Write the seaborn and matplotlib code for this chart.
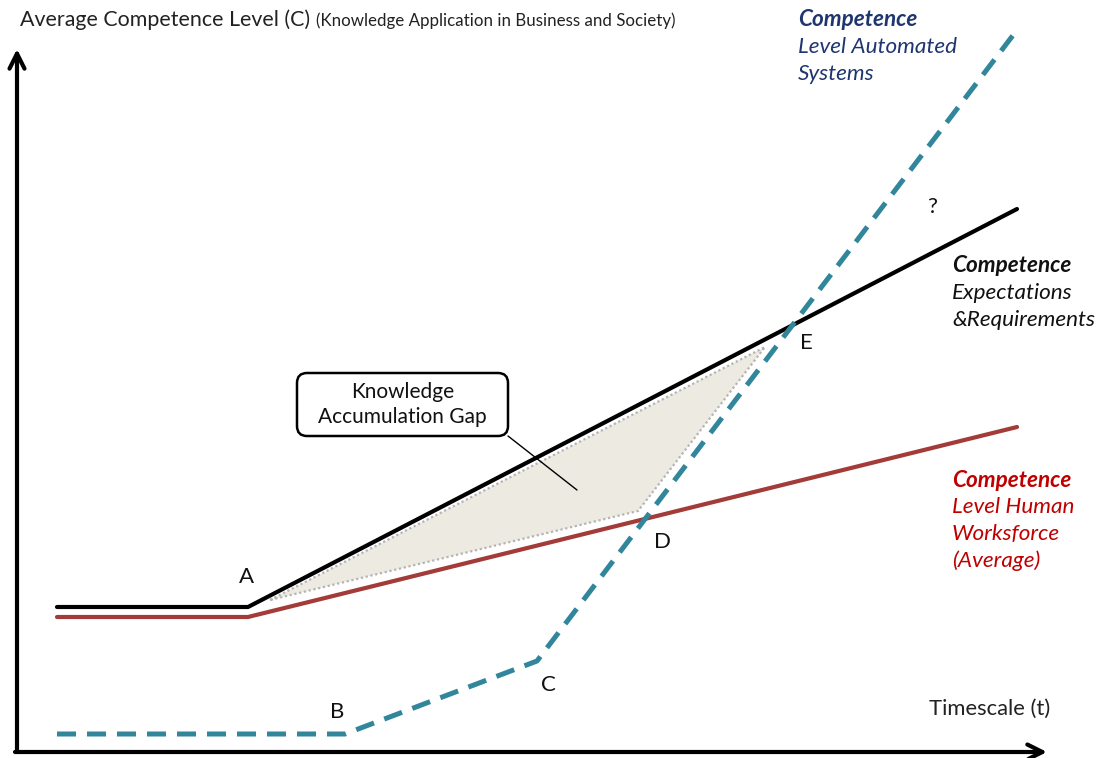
import numpy as np
import pandas as pd
import matplotlib
matplotlib.use("Agg")
import matplotlib.pyplot as plt
from matplotlib.patches import FancyBboxPatch
import seaborn as sns

sns.set_theme(style="white")
plt.rcParams["font.family"] = ["Lato", "DejaVu Sans"]

# Timescale (t) and competence level (C) for each curve
t_expect = [4.0, 23.1, 100.0]
c_expect = [14.5, 14.5, 54.3]
t_human = [4.0, 23.1, 100.0]
c_human = [13.5, 13.5, 32.5]
t_auto = [4.0, 32.8, 52.0, 100.0]
c_auto = [1.8, 1.8, 9.1, 72.2]

# Knowledge accumulation gap region
gap_t = [25.3, 74.8, 62.1]
gap_c = [15.2, 40.5, 24.1]

# Milestone letters
point_names = ["A", "B", "C", "D", "E", "?"]
point_t = [23.0, 32.0, 53.1, 64.6, 78.9, 91.5]
point_c = [17.5, 4.0, 6.7, 21.0, 40.9, 54.5]

col_expect = "#000000"
col_human = "#A33B39"
col_auto = "#31869B"
col_auto_txt = "#1F3570"
col_human_txt = "#C00000"

df = pd.concat([
    pd.DataFrame({"t": t_expect, "C": c_expect, "series": "expect"}),
    pd.DataFrame({"t": t_human, "C": c_human, "series": "human"}),
    pd.DataFrame({"t": t_auto, "C": c_auto, "series": "auto"}),
])

fig = plt.figure(figsize=(11.11, 7.58), dpi=100)
ax = fig.add_axes([0, 0, 1, 1])
ax.set_xlim(-1.7, 109.4)
ax.set_ylim(-0.6, 75.2)
ax.axis("off")

# gap polygon
ax.fill(gap_t, gap_c, facecolor="#ECEAE1", edgecolor="#B4B4B4",
        linestyle=(0, (1, 1.2)), linewidth=1.6, zorder=1)

sns.lineplot(data=df[df.series == "expect"], x="t", y="C", color=col_expect,
             lw=3.0, sort=False, estimator=None, ax=ax, zorder=3)
sns.lineplot(data=df[df.series == "human"], x="t", y="C", color=col_human,
             lw=3.0, sort=False, estimator=None, ax=ax, zorder=3)
sns.lineplot(data=df[df.series == "auto"], x="t", y="C", color=col_auto,
             lw=3.6, sort=False, estimator=None, ax=ax, zorder=4,
             linestyle=(0, (3.8, 2.2)))
ax.set_xlabel("")
ax.set_ylabel("")

# axes with arrowheads
arrow = dict(arrowstyle="->,head_length=0.9,head_width=0.45", lw=3.0,
             color="black", shrinkA=0, shrinkB=0)
ax.annotate("", xy=(0, 70.3), xytext=(0, 0), arrowprops=arrow, zorder=5)
ax.annotate("", xy=(103.0, 0), xytext=(-0.2, 0), arrowprops=arrow, zorder=5)

for name, tt, cc in zip(point_names, point_t, point_c):
    ax.text(tt, cc, name, fontsize=16, ha="center", va="center",
            color="#111111")

# callout box for the gap
box = FancyBboxPatch((28.0, 31.6), 21.1, 6.3,
                     boxstyle="round,pad=0,rounding_size=1.0",
                     fc="white", ec="black", lw=1.8, zorder=6)
ax.add_patch(box)
ax.plot([49.1, 56.0], [31.6, 26.2], color="black", lw=1.0, zorder=6)
ax.text(38.55, 34.75, "Knowledge\nAccumulation Gap", ha="center", va="center",
        fontsize=15, color="#111111", linespacing=1.3, zorder=7)

# headings
fig.text(20 / 1111, 1 - 20 / 758, "Average Competence Level (C)",
         fontsize=15.4, va="center", ha="left", color="#222222")
fig.text(316 / 1111, 1 - 21 / 758,
         "(Knowledge Application in Business and Society)",
         fontsize=12.2, va="center", ha="left", color="#222222")
fig.text(929 / 1111, 1 - 709 / 758, "Timescale (t)", fontsize=15.8,
         va="center", ha="left", color="#222222")


def series_label(x, y, lines, color):
    for i, line in enumerate(lines):
        fig.text(x / 1111, 1 - (y + 27 * i) / 758, line, fontsize=16.2,
                 style="italic", weight="bold" if i == 0 else "normal",
                 color=color, va="center", ha="left")


series_label(798, 20, ["Competence", "Level Automated", "Systems"], col_auto_txt)
series_label(952, 266, ["Competence", "Expectations", "&Requirements"], "#111111")
series_label(952, 480, ["Competence", "Level Human", "Worksforce", "(Average)"],
             col_human_txt)

fig.savefig("out.png", dpi=100, facecolor="white")
